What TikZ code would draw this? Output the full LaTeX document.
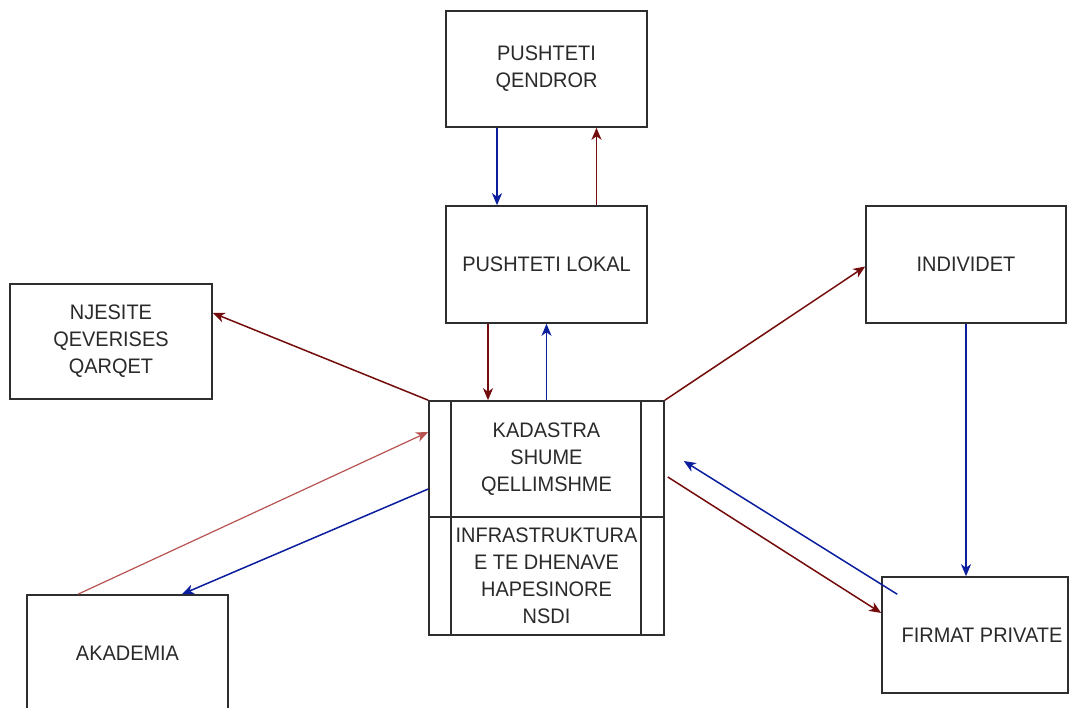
\documentclass[tikz,border=0pt]{standalone}
\usepackage{fontspec}
\setmainfont{Liberation Sans}[FakeStretch=0.95]
\usetikzlibrary{arrows.meta}
\definecolor{dred}{HTML}{740C0C}
\definecolor{dblue}{HTML}{0A1E9E}
\definecolor{pinkred}{HTML}{B85450}
\definecolor{bord}{HTML}{2E2E2E}
\definecolor{txt}{HTML}{2A2A2A}
\tikzset{
  box/.style={draw=bord, line width=1.6pt, rectangle, inner sep=0pt, align=center,
    text=txt, font=\fontsize{21}{27}\selectfont},
  plain/.style={inner sep=0pt, align=center, text=txt, font=\fontsize{21}{27}\selectfont},
  arr/.style={line width=1.5pt, -{Stealth[length=12pt,width=10pt,inset=3.5pt]}},
  redarr/.style={arr, draw=dred, color=dred},
  bluearr/.style={arr, draw=dblue, color=dblue},
  pinkarr/.style={arr, draw=pinkred, color=pinkred, line width=1.2pt},
  divider/.style={draw=bord, line width=1.6pt}
}
\begin{document}
\begin{tikzpicture}[x=1pt,y=-1pt]
\useasboundingbox[fill=white] (0,0) rectangle (1070,708);

\node[box, minimum width=201pt, minimum height=116pt] (qend) at (546.5,69) {PUSHTETI\\QENDROR};
\node[box, minimum width=201pt, minimum height=117pt] (lokal) at (546.5,264.5) {PUSHTETI LOKAL};
\node[box, minimum width=200pt, minimum height=117pt] (indiv) at (966,264.5) {INDIVIDET};
\node[box, minimum width=202pt, minimum height=115pt] (njes) at (111,341.5) {NJESITE\\QEVERISES\\QARQET};
\node[box, minimum width=201pt, minimum height=116pt] (akad) at (127.5,653) {AKADEMIA};
\node[box, minimum width=186pt, minimum height=116pt] (firm) at (975,635) {\hspace*{14pt}FIRMAT PRIVATE};

\node[box, minimum width=235pt, minimum height=234pt] (central) at (546.5,518) {};
\draw[divider] ([xshift=23pt]central.north west) -- ([xshift=23pt]central.south west);
\draw[divider] ([xshift=-24pt]central.north east) -- ([xshift=-24pt]central.south east);
\draw[divider] ([yshift=1pt]central.west) -- ([yshift=1pt]central.east);
\node[plain] (ctop) at (546.5,459) {KADASTRA\\SHUME\\QELLIMSHME};
\node[plain] (cbot) at (546.5,575.5) {INFRASTRUKTURA\\E TE DHENAVE\\HAPESINORE\\NSDI};

% connectors
\draw[bluearr] ([xshift=-49.5pt]qend.south) -- ([xshift=-49.5pt]lokal.north);
\draw[redarr] ([xshift=50pt]lokal.north) -- ([xshift=50pt]qend.south);
\draw[redarr] ([xshift=-58.5pt]lokal.south) -- ([xshift=-58.5pt]central.north);
\draw[bluearr] (central.north) -- (lokal.south);
\draw[redarr] (central.north west) -- ([yshift=28.5pt]njes.east);
\draw[redarr] (central.north east) -- ([yshift=-2pt]indiv.west);
\draw[bluearr] (indiv.south) -- ([xshift=-9pt]firm.north);
\draw[redarr] ([xshift=3pt,yshift=41pt]central.east) -- ([yshift=22pt]firm.west);
\draw[bluearr] ([xshift=16pt,yshift=-18pt]firm.north west) -- ([xshift=19pt,yshift=57pt]central.east);
\draw[pinkarr] ([xshift=-49.5pt]akad.north) -- ([yshift=86pt]central.west);
\draw[bluearr] ([yshift=29pt]central.west) -- ([xshift=54.5pt]akad.north);
\end{tikzpicture}
\end{document}
